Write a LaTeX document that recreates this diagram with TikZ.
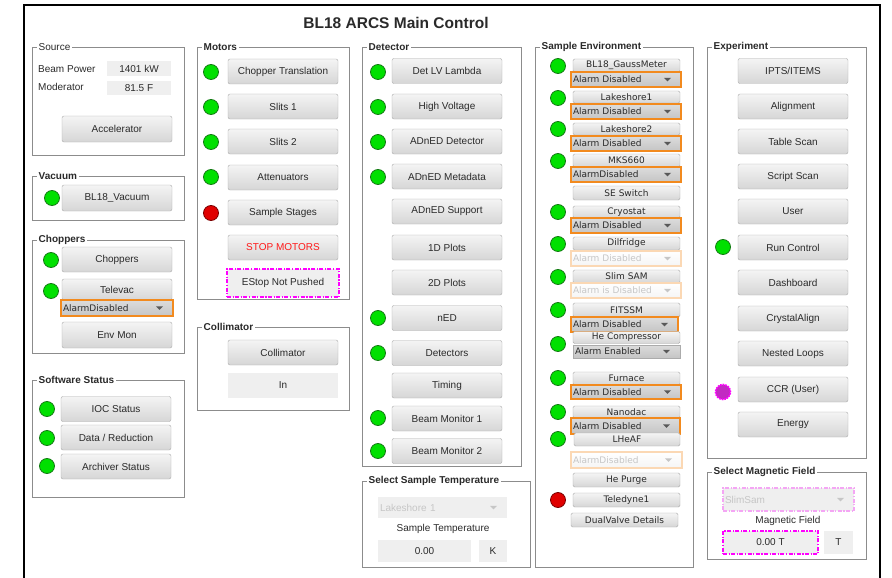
\documentclass[tikz,border=0pt]{standalone}
\usepackage{fontspec}
\setmainfont{Liberation Sans}
\newfontfamily\sefont{DejaVu Sans}
\definecolor{grpline}{HTML}{8C8C8C}
\definecolor{btnline}{HTML}{ABABAB}
\definecolor{btntop}{HTML}{F4F4F4}
\definecolor{btnbot}{HTML}{D6D6D6}
\definecolor{valfill}{HTML}{EFEFEF}
\definecolor{ledgreen}{HTML}{00E000}
\definecolor{ledgreenb}{HTML}{157A15}
\definecolor{ledred}{HTML}{E00000}
\definecolor{ledredb}{HTML}{7A0000}
\definecolor{alarmor}{HTML}{F28A1E}
\definecolor{fadeor}{HTML}{FBD8B4}
\definecolor{fadetxt}{HTML}{C6C6C6}
\definecolor{magline}{HTML}{FF00FF}
\definecolor{magfade}{HTML}{F4A6F4}
\definecolor{ledmag}{HTML}{C22AC2}
\definecolor{txt}{HTML}{2A2A2A}

\begin{document}
\begin{tikzpicture}[x=1pt,y=-1pt,font=\fontsize{10}{12}\selectfont,text=txt,
  grp/.style={draw=grpline,line width=0.8pt},
  grptitle/.style={fill=white,inner sep=1.5pt,anchor=west,font=\fontsize{10}{12}\selectfont\bfseries},
  btn/.style={draw=btnline,rounded corners=2pt,top color=btntop,bottom color=btnbot,
    minimum width=110pt,minimum height=25pt,inner sep=0pt},
  sbtn/.style={btn,minimum width=107pt,minimum height=13pt,rounded corners=1.5pt,
    font=\sefont\fontsize{9}{10}\selectfont},
  valbox/.style={fill=valfill,inner sep=0pt},
  cbarrow/.style={path picture={\fill[#1] ([xshift=-17pt,yshift=1.6pt]path picture bounding box.east)
    -- ++(7pt,0pt) -- ++(-3.5pt,-3.5pt) -- cycle;}},
  combo/.style={draw=alarmor,line width=1.1pt,top color=btntop!90!black,bottom color=btnbot!92!black,
    inner sep=0pt,inner xsep=2pt,minimum height=15pt,text width=#1,align=left,
    font=\sefont\fontsize{9}{10}\selectfont,cbarrow=black!65},
  fcombo/.style={combo=#1,draw=fadeor,top color=white,bottom color=black!4,text=fadetxt,cbarrow=fadetxt},
  led/.style={circle,draw=ledgreenb,fill=ledgreen,line width=0.8pt,minimum size=15pt,inner sep=0pt},
  redled/.style={led,draw=ledredb,fill=ledred},
  magdash/.style={draw=magline,line width=1.2pt,dash pattern=on 4pt off 1.5pt on 1.2pt off 1.5pt}]
\useasboundingbox (0,0) rectangle (892,578);
\draw[line width=2.2pt] (24,578) -- (24,5) -- (880,5) -- (880,578);
\node[font=\fontsize{15.5}{18}\selectfont\bfseries] (title) at (396,22.5) {BL18 ARCS Main Control};

% Source
\draw[grp] (32,47) rectangle (184,155);
\node[grptitle,font=\fontsize{10}{12}\selectfont] (srcT) at (37,47) {Source};
\node[anchor=west,inner sep=0pt] (bpow) at (38,69) {Beam Power};
\node[anchor=west,inner sep=0pt] (modr) at (38,87) {Moderator};
\node[valbox,minimum width=64pt,minimum height=15pt] (bpowv) at (139,68.5) {1401 kW};
\node[valbox,minimum width=64pt,minimum height=14pt] (modrv) at (139,88) {81.5 F};
\node[btn,minimum height=26pt] (accel) at (117,129) {Accelerator};

% Vacuum
\draw[grp] (32,176) rectangle (184,220);
\node[grptitle] (vacT) at (37,176) {Vacuum};
\node[led] (vacled) at (52,198) {};
\node[btn,minimum height=26pt] (vac) at (117,198) {BL18\_Vacuum};

% Choppers
\draw[grp] (32,240) rectangle (184,353);
\node[grptitle] (chopT) at (37,240) {Choppers};
\node[led] (chopled) at (51,260) {};
\node[led] (tvled) at (51,291) {};
\node[btn] (chop) at (117,259.5) {Choppers};
\node[btn,minimum height=21pt] (televac) at (117,289.5) {Televac};
\node[combo=108pt,minimum height=16pt] (tvalarm) at (117,308) {AlarmDisabled};
\node[btn,minimum height=26pt] (envmon) at (117,335) {Env Mon};

% Software Status
\draw[grp] (32,380) rectangle (184,497);
\node[grptitle] (swT) at (37,380) {Software Status};
\foreach \y [count=\i] in {409,438,466} \node[led] (swled\i) at (47,\y) {};
\node[btn] (ioc) at (116,409) {IOC Status};
\node[btn] (datared) at (116,437.5) {Data / Reduction};
\node[btn] (archiver) at (116,466.5) {Archiver Status};

% Motors
\draw[grp] (197,47) rectangle (349,299);
\node[grptitle] (motT) at (202,47) {Motors};
\foreach \y [count=\i] in {72,107,142,177} \node[led] (motled\i) at (211,\y) {};
\node[redled] (motled5) at (211,213) {};
\node[btn] (choptr) at (283,71.5) {Chopper Translation};
\node[btn] (slits1) at (283,106.5) {Slits 1};
\node[btn] (slits2) at (283,141.5) {Slits 2};
\node[btn] (atten) at (283,177.5) {Attenuators};
\node[btn] (sstage) at (283,212.5) {Sample Stages};
\node[btn,text=red!90!white] (stopmot) at (283,247.5) {STOP MOTORS};
\node[valbox,magdash,minimum width=112pt,minimum height=28pt] (estop) at (283,283) {EStop Not Pushed};

% Collimator
\draw[grp] (197,327) rectangle (349,410);
\node[grptitle] (colT) at (202,327) {Collimator};
\node[btn] (coll) at (283,352.5) {Collimator};
\node[valbox,minimum width=110pt,minimum height=25pt] (collin) at (283,385.5) {In};

% Detector
\draw[grp] (362,47) rectangle (521,466);
\node[grptitle] (detT) at (367,47) {Detector};
\foreach \y [count=\i] in {72,107,142,177,318,353,418,451} \node[led] (detled\i) at (378,\y) {};
\node[btn] (detlv) at (447,71) {Det LV Lambda};
\node[btn] (hv) at (447,106.5) {High Voltage};
\node[btn] (adndet) at (447,141.5) {ADnED Detector};
\node[btn] (adnmeta) at (447,176.5) {ADnED Metadata};
\node[btn] (adnsup) at (447,211.5) {ADnED Support};
\node[btn] (plot1d) at (447,247.5) {1D Plots};
\node[btn] (plot2d) at (447,282.5) {2D Plots};
\node[btn] (ned) at (447,318) {nED};
\node[btn] (dets) at (447,353) {Detectors};
\node[btn] (timing) at (447,385.5) {Timing};
\node[btn] (bm1) at (447,418.5) {Beam Monitor 1};
\node[btn] (bm2) at (447,451) {Beam Monitor 2};

% Select Sample Temperature
\draw[grp] (362,481) rectangle (530,567);
\node[grptitle] (stT) at (367,481) {Select Sample Temperature};
\node[valbox,text=fadetxt,minimum height=21pt,inner xsep=2pt,text width=125pt,align=left,cbarrow=fadetxt] (tsel) at (442.5,507.5) {Lakeshore 1};
\node (tlab) at (443,529) {Sample Temperature};
\node[valbox,minimum width=93pt,minimum height=22pt] (tval) at (424.5,551) {0.00};
\node[valbox,minimum width=28pt,minimum height=22pt] (tunit) at (493,551) {K};

% Sample Environment
\draw[grp] (535,47) rectangle (693,567);
\node[grptitle] (seT) at (540,47) {Sample Environment};
\foreach \y [count=\i] in {66,98,129,161,212,244,277,310,344,378,412,439} \node[led] (seled\i) at (558,\y) {};
\node[redled] (seled13) at (558,500) {};
\node[sbtn] (gauss) at (626.5,65.5) {BL18\_GaussMeter};
\node[combo=106pt] (gaussal) at (626,79.5) {Alarm Disabled};
\node[sbtn,minimum height=12pt] (ls1) at (626.5,97) {Lakeshore1};
\node[combo=106pt] (ls1al) at (626,111.5) {Alarm Disabled};
\node[sbtn,minimum height=12pt] (ls2) at (626.5,129) {Lakeshore2};
\node[combo=106pt] (ls2al) at (626,143.5) {Alarm Disabled};
\node[sbtn] (mks) at (626.5,160.5) {MKS660};
\node[combo=106pt] (mksal) at (626,174.5) {AlarmDisabled};
\node[sbtn,minimum height=14pt] (seswitch) at (626.5,193) {SE Switch};
\node[sbtn,minimum height=12pt] (cryo) at (626.5,212) {Cryostat};
\node[combo=106pt] (cryoal) at (626,225.5) {Alarm Disabled};
\node[sbtn] (dilf) at (626.5,243.5) {Dilfridge};
\node[fcombo=106pt] (dilfal) at (626,258.5) {Alarm Disabled};
\node[sbtn] (slimsam) at (626.5,276.5) {Slim SAM};
\node[fcombo=106pt] (slimal) at (626,290.5) {Alarm is Disabled};
\node[sbtn,minimum height=14pt] (fitssm) at (626.5,310) {FITSSM};
\node[combo=103pt] (fitsal) at (624.5,324.5) {Alarm Disabled};
\node[sbtn,minimum height=12pt] (hecomp) at (626.5,337.5) {He Compressor};
\node[combo=103pt,draw=btnline,line width=0.6pt,minimum height=13pt] (hecompal) at (626.5,351.5) {Alarm Enabled};
\node[sbtn] (furn) at (626.5,378.5) {Furnace};
\node[combo=106pt,minimum height=14pt] (furnal) at (626,392) {Alarm Disabled};
\node[sbtn,minimum height=12pt] (nano) at (626.5,412) {Nanodac};
\node[combo=105pt,minimum height=16pt] (nanoal) at (625.5,426) {Alarm Disabled};
\node[sbtn,minimum width=106pt] (lheaf) at (627,439.5) {LHeAF};
\node[fcombo=107pt,minimum height=16pt] (lheafal) at (626.5,460) {AlarmDisabled};
\node[sbtn,minimum height=14pt] (hepurge) at (626.5,480) {He Purge};
\node[sbtn,minimum height=14pt] (teled) at (626.5,500) {Teledyne1};
\node[sbtn,minimum height=14pt] (dualv) at (624.5,520) {DualValve Details};

% Experiment
\draw[grp] (707,47) rectangle (866,458);
\node[grptitle] (expT) at (712,47) {Experiment};
\node[led] (runled) at (723,247) {};
\node[circle,fill=ledmag,draw=magline,line width=1.6pt,densely dotted,minimum size=15pt,inner sep=0pt] (ccrled) at (723,392) {};
\node[btn] (ipts) at (793,71) {IPTS/ITEMS};
\node[btn] (align) at (793,106.5) {Alignment};
\node[btn] (tscan) at (793,141.5) {Table Scan};
\node[btn] (sscan) at (793,176.5) {Script Scan};
\node[btn] (user) at (793,211.5) {User};
\node[btn] (runctl) at (793,247.5) {Run Control};
\node[btn] (dash) at (793,282.5) {Dashboard};
\node[btn] (xtal) at (793,318.5) {CrystalAlign};
\node[btn] (nested) at (793,353.5) {Nested Loops};
\node[btn] (ccr) at (793,389.5) {CCR (User)};
\node[btn] (energy) at (793,424.5) {Energy};

% Select Magnetic Field
\draw[grp] (707,472) rectangle (866,559);
\node[grptitle] (mfT) at (712,472) {Select Magnetic Field};
\node[valbox,magdash,draw=magfade,text=fadetxt,minimum height=23pt,inner xsep=2pt,text width=127pt,align=left,cbarrow=fadetxt] (msel) at (788.5,499.5) {SlimSam};
\node (mlab) at (788,521) {Magnetic Field};
\node[valbox,magdash,minimum width=95pt,minimum height=23pt] (mval) at (770.5,542.5) {0.00 T};
\node[valbox,minimum width=29pt,minimum height=23pt] (munit) at (838.5,542.5) {T};
\end{tikzpicture}
\end{document}
